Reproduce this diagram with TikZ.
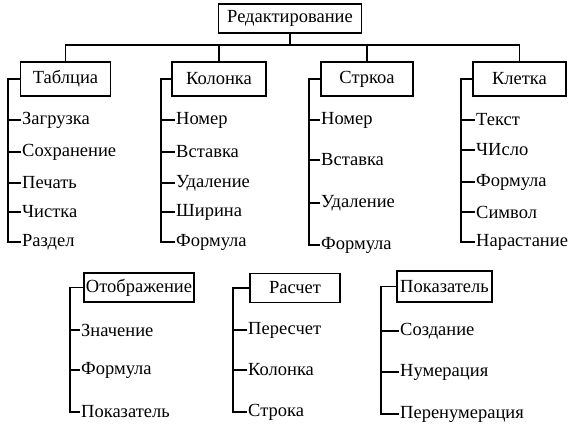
\documentclass[tikz,border=0pt]{standalone}
\usepackage{fontspec}
\setmainfont{Liberation Serif}
\usetikzlibrary{calc}
\tikzset{every node/.style={font=\fontsize{18.5}{20}\selectfont},box/.style={draw,line width=1.3pt,minimum height=34pt,inner sep=2pt},item/.style={anchor=west,inner sep=1pt},edge/.style={line width=1.1pt}}

\begin{document}
\begin{tikzpicture}[x=1pt,y=-1pt]
\useasboundingbox (0,0) rectangle (572,425);
\node[box,minimum width=143pt,minimum height=29pt] (red) at (290,18.5){Редактирование};
\node[box,minimum width=90pt] (tab) at (65.5,79){Таблциа};\node[box,minimum width=94pt] (kol) at (219,79){Колонка};
\node[box,minimum width=92pt] (str) at (367,79){Стркоа};\node[box,minimum width=93pt] (kle) at (519.5,79){Клетка};
\node[box,minimum width=108pt,minimum height=29pt] (otb) at (139,287.5){Отображение};\node[box,minimum width=90pt,minimum height=29pt] (ras) at (295,288){Расчет};
\node[box,minimum width=95pt,minimum height=31pt] (pok) at (444.5,286.5){Показатель};
% bus
\coordinate (bus) at (290,45);
\draw[edge] (red.south)--(bus);\draw[edge] (tab.north) |- (bus) -| (kle.north);
\draw[edge] (kol.north)--(kol.north|-bus);\draw[edge] (str.north)--(str.north|-bus);
% brackets
\coordinate (tabL) at (8,79);\coordinate (kolL) at (161,79);\coordinate (strL) at (309,79);\coordinate (kleL) at (461,79);
\coordinate (otbL) at (70,287.5);\coordinate (rasL) at (233,288);\coordinate (pokL) at (381,286.5);
\foreach \t/\y [count=\i] in {Загрузка/120,Сохранение/152,Печать/183,Чистка/212,Раздел/242}
 {\node[item] (tab\i) at (21,\y){\t};\draw[edge] (tab.west)--(tabL) |- (tab\i.west);}
\foreach \t/\y [count=\i] in {Номер/120,Вставка/152,Удаление/183,Ширина/212,Формула/242}
 {\node[item] (kol\i) at (175,\y){\t};\draw[edge] (kol.west)--(kolL) |- (kol\i.west);}
\foreach \t/\y [count=\i] in {Номер/120,Вставка/160,Удаление/203,Формула/245}
 {\node[item] (str\i) at (320,\y){\t};\draw[edge] (str.west)--(strL) |- (str\i.west);}
\foreach \t/\y [count=\i] in {Текст/120,ЧИсло/150,Формула/182,Символ/212,Нарастание/242}
 {\node[item] (kle\i) at (475,\y){\t};\draw[edge] (kle.west)--(kleL) |- (kle\i.west);}
\foreach \t/\y [count=\i] in {Значение/330,Формула/370,Показатель/412}
 {\node[item] (otb\i) at (80,\y){\t};\draw[edge] (otb.west)--(otbL) |- (otb\i.west);}
\foreach \t/\y [count=\i] in {Пересчет/330,Колонка/370,Строка/412}
 {\node[item] (ras\i) at (247,\y){\t};\draw[edge] (ras.west)--(rasL) |- (ras\i.west);}
\foreach \t/\y [count=\i] in {Создание/331,Нумерация/372,Перенумерация/414}
 {\node[item] (pok\i) at (399,\y){\t};\draw[edge] (pok.west)--(pokL) |- (pok\i.west);}
\end{tikzpicture}
\end{document}
